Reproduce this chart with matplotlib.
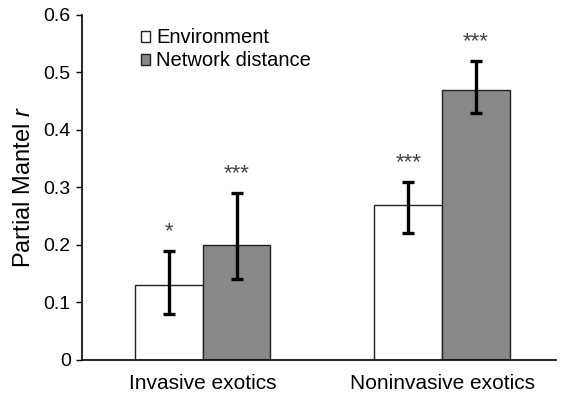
import matplotlib
matplotlib.use("Agg")
import matplotlib.pyplot as plt
import numpy as np

categories = ["Invasive exotics", "Noninvasive exotics"]
series = ["Environment", "Network distance"]
env_vals = [0.13, 0.27]
env_lo = [0.08, 0.22]
env_hi = [0.19, 0.31]
net_vals = [0.20, 0.47]
net_lo = [0.14, 0.43]
net_hi = [0.29, 0.52]
env_sig = ["*", "***"]
net_sig = ["***", "***"]
yticks = [0, 0.1, 0.2, 0.3, 0.4, 0.5, 0.6]
ytick_labels = ["0", "0.1", "0.2", "0.3", "0.4", "0.5", "0.6"]

plt.rcParams['font.family'] = ['Liberation Sans', 'DejaVu Sans']
plt.rcParams['mathtext.fontset'] = 'custom'
plt.rcParams['mathtext.it'] = 'Liberation Sans:italic'

fig = plt.figure(figsize=(5.61, 3.93), dpi=100)
ax = fig.add_axes([0.146, 0.084, 0.845, 0.878])

x = np.arange(len(categories))
w = 0.283
env_x = x - w / 2
net_x = x + w / 2

ax.bar(env_x, env_vals, width=w, color="white", edgecolor="#222222", linewidth=1.0, label=series[0], zorder=2)
ax.bar(net_x, net_vals, width=w, color="#888888", edgecolor="#222222", linewidth=1.0, label=series[1], zorder=2)

for xs, vals, lo, hi, sig in [(env_x, env_vals, env_lo, env_hi, env_sig), (net_x, net_vals, net_lo, net_hi, net_sig)]:
    vals = np.array(vals); lo = np.array(lo); hi = np.array(hi)
    ax.errorbar(xs, vals, yerr=[vals - lo, hi - vals], fmt="none", ecolor="black",
                elinewidth=2.4, capsize=4, capthick=2.4, zorder=3)
    for xi, h, s in zip(xs, hi, sig):
        ax.text(xi, h + 0.015, s, ha="center", va="bottom", fontsize=16, color="#444444")

ax.set_xlim(-0.504, 1.475)
ax.set_ylim(0, 0.6)
ax.set_yticks(yticks)
ax.set_yticklabels(ytick_labels, fontsize=14)
ax.set_xticks(x)
ax.set_xticklabels(categories, fontsize=15)
ax.tick_params(axis="x", length=0, pad=10)
ax.tick_params(axis="y", direction="out", length=4, width=1, pad=4)
ax.spines["top"].set_visible(False)
ax.spines["right"].set_visible(False)
ax.spines["left"].set_linewidth(1.2)
ax.spines["bottom"].set_linewidth(1.2)
ax.set_ylabel("Partial Mantel $r$", fontsize=17, labelpad=6)

leg = ax.legend(loc="upper left", bbox_to_anchor=(0.103, 0.99), frameon=False, fontsize=14.5,
                handlelength=0.45, handleheight=0.45, handletextpad=0.3, labelspacing=0.2,
                borderpad=0)

fig.savefig("out.png", dpi=100)
